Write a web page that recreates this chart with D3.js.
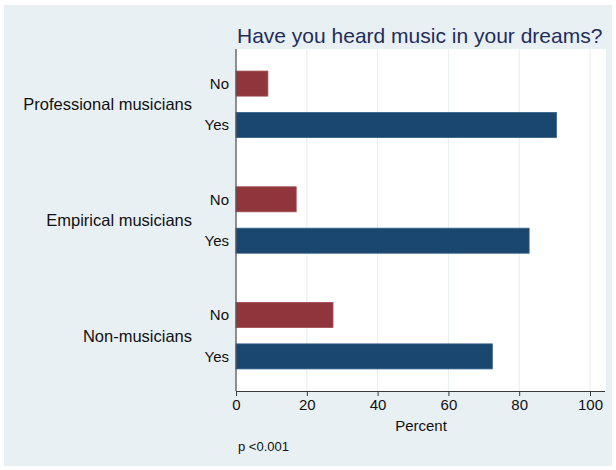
<!DOCTYPE html>
<html>
<head>
<meta charset="utf-8">
<script src="https://cdn.jsdelivr.net/npm/d3@7"></script>
<style>
  html, body { margin: 0; padding: 0; background: #ffffff; }
  svg { display: block; font-family: "Liberation Sans", Arial, Helvetica, sans-serif; }
</style>
</head>
<body>
<svg id="chart" width="616" height="470"></svg>
<script>
// ---- data ----
const groups = ["Professional musicians", "Empirical musicians", "Non-musicians"];
const answers = ["No", "Yes"];
const noValues = [9.0, 17.0, 27.4];
const yesValues = [90.5, 82.8, 72.4];
const xTicks = [0, 20, 40, 60, 80, 100];
const titleText = "Have you heard music in your dreams?";
const xTitle = "Percent";
const noteText = "p <0.001";

const rows = [];
groups.forEach((g, i) => {
  rows.push({ group: g, answer: "No", value: noValues[i] });
  rows.push({ group: g, answer: "Yes", value: yesValues[i] });
});

const svg = d3.select("#chart");
const W = 616, H = 470;
const plot = { left: 236, right: 606, top: 49, bottom: 391 };

// background
svg.append("rect").attr("x", 4).attr("y", 5).attr("width", 608).attr("height", 461).attr("fill", "#e9f0f3");
svg.append("rect").attr("x", plot.left).attr("y", plot.top)
  .attr("width", plot.right - plot.left).attr("height", plot.bottom - plot.top).attr("fill", "#ffffff");

const x = d3.scaleLinear().domain([0, 100]).range([236, 590]);
const yGroup = d3.scaleBand().domain(groups).range([plot.top, plot.bottom])
  .paddingInner(0.3).paddingOuter(0.128);
const yAns = d3.scaleBand().domain(answers).range([0, yGroup.bandwidth()])
  .paddingInner(0.396).paddingOuter(0.176);
const color = d3.scaleOrdinal().domain(answers).range(["#90353b", "#1a476f"]);
const stroke = d3.scaleOrdinal().domain(answers).range(["#a2494f", "#2f5c86"]);

// grid
svg.append("g").selectAll("line").data(xTicks.filter(d => d > 0)).join("line")
  .attr("x1", d => x(d)).attr("x2", d => x(d))
  .attr("y1", plot.top).attr("y2", plot.bottom)
  .attr("stroke", "#e7edef").attr("stroke-width", 1);

// bars
svg.append("g").selectAll("rect").data(rows).join("rect")
  .attr("x", x(0))
  .attr("y", d => yGroup(d.group) + yAns(d.answer))
  .attr("width", d => x(d.value) - x(0))
  .attr("height", yAns.bandwidth())
  .attr("fill", d => color(d.answer))
  .attr("stroke", d => stroke(d.answer))
  .attr("stroke-width", 0.8);

// x axis
const xAxis = d3.axisBottom(x).tickValues(xTicks).tickSize(5).tickPadding(3).tickSizeOuter(0);
const gx = svg.append("g").attr("transform", `translate(0,${plot.bottom})`).call(xAxis);
gx.select(".domain").attr("d", `M${plot.left},0.5H${plot.right - 1}`).attr("stroke", "#3a3a3a");
gx.selectAll(".tick line").attr("stroke", "#3a3a3a");
gx.selectAll(".tick text").attr("font-size", 15).attr("fill", "#111").attr("font-family", "Liberation Sans, Arial, sans-serif");

// left axis line
svg.append("line").attr("x1", plot.left).attr("x2", plot.left)
  .attr("y1", plot.top).attr("y2", plot.bottom)
  .attr("stroke", "#555").attr("stroke-width", 1.3);

// answer labels
svg.append("g").selectAll("text").data(rows).join("text")
  .attr("x", 229)
  .attr("y", d => yGroup(d.group) + yAns(d.answer) + yAns.bandwidth() / 2)
  .attr("dy", "0.36em")
  .attr("text-anchor", "end")
  .attr("font-size", 15).attr("fill", "#111")
  .text(d => d.answer);

// group labels
svg.append("g").selectAll("text").data(groups).join("text")
  .attr("x", 192)
  .attr("y", d => yGroup(d) + yGroup.bandwidth() / 2)
  .attr("dy", "0.36em")
  .attr("text-anchor", "end")
  .attr("font-size", 16.5).attr("fill", "#111")
  .text(d => d);

// title
svg.append("text").attr("x", 237).attr("y", 43)
  .attr("font-size", 21).attr("fill", "#1f2d5c")
  .text(titleText);

// x title
svg.append("text").attr("x", (plot.left + plot.right) / 2).attr("y", 431)
  .attr("text-anchor", "middle").attr("font-size", 15).attr("fill", "#111")
  .text(xTitle);

// note
svg.append("text").attr("x", 238).attr("y", 451)
  .attr("font-size", 13).attr("fill", "#111")
  .text(noteText);
</script>
</body>
</html>
